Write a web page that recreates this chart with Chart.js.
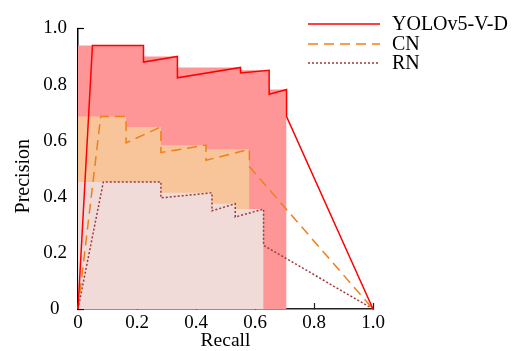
<!DOCTYPE html>
<html>
<head>
<meta charset="utf-8">
<script src="https://cdn.jsdelivr.net/npm/chart.js@4.4.0/dist/chart.umd.min.js"></script>
<style>
html, body { margin: 0; padding: 0; background: #fff; }
#wrap { width: 516px; height: 351px; position: relative; }
</style>
</head>
<body>
<div id="wrap"><canvas id="prChart"></canvas></div>
<script>
/* series names */
var seriesNames = ['YOLOv5-V-D', 'CN', 'RN'];
var axisTicks = [0, 0.2, 0.4, 0.6, 0.8, 1.0];

/* PR curves (recall -> precision) */
var yoloRecall    = [0, 0.049, 0.222, 0.222, 0.337, 0.337, 0.551, 0.551, 0.648, 0.648, 0.707, 0.707, 1.0];
var yoloPrecision = [0, 0.939, 0.939, 0.880, 0.900, 0.824, 0.861, 0.841, 0.851, 0.765, 0.782, 0.686, 0];
var cnRecall      = [0, 0.077, 0.163, 0.163, 0.281, 0.281, 0.434, 0.434, 0.581, 0.581, 1.0];
var cnPrecision   = [0, 0.686, 0.686, 0.592, 0.649, 0.558, 0.584, 0.530, 0.569, 0.507, 0];
var rnRecall      = [0, 0.086, 0.281, 0.281, 0.454, 0.454, 0.533, 0.533, 0.629, 0.629, 1.0];
var rnPrecision   = [0, 0.453, 0.453, 0.396, 0.414, 0.350, 0.375, 0.328, 0.356, 0.227, 0];

/* interpolated precision (shaded areas) */
var yoloFillRecall    = [0, 0.222, 0.337, 0.551, 0.648, 0.707];
var yoloFillPrecision = [0.939, 0.900, 0.861, 0.851, 0.782, 0.782];
var cnFillRecall      = [0, 0.163, 0.281, 0.434, 0.581];
var cnFillPrecision   = [0.686, 0.649, 0.584, 0.569, 0.569];
var rnFillRecall      = [0, 0.281, 0.454, 0.533, 0.629];
var rnFillPrecision   = [0.453, 0.414, 0.375, 0.356, 0.356];

var serif = '"Liberation Serif", "Times New Roman", serif';
Chart.defaults.font.family = serif;

function toPoints(xs, ys) {
	return xs.map(function(x, i) { return {x: x, y: ys[i]}; });
}

function lineSet(name, xs, ys, color, dash, order) {
	return {
		label: name, data: toPoints(xs, ys), borderColor: color, borderWidth: 1.5,
		borderDash: dash, pointRadius: 0, tension: 0, fill: false, order: order, clip: false
	};
}

// stepped 'before' = horizontal first, so each value holds until the next recall
function areaSet(xs, ys, color, order) {
	return {
		label: '', data: toPoints(xs, ys), stepped: 'before', fill: 'origin',
		backgroundColor: color, borderColor: 'rgba(0,0,0,0)', borderWidth: 0,
		pointRadius: 0, order: order
	};
}

/* legend in the upper right corner */
var cornerLegend = {
	id: 'cornerLegend',
	afterDraw: function(chart) {
		var ctx = chart.ctx;
		var rows = [24, 44, 63];
		ctx.save();
		ctx.font = '20px ' + serif;
		ctx.textBaseline = 'middle';
		for (var i = 0; i < seriesNames.length; i++) {
			var ds = chart.data.datasets[i];
			ctx.strokeStyle = ds.borderColor;
			ctx.lineWidth = ds.borderWidth;
			ctx.setLineDash(ds.borderDash || []);
			ctx.beginPath();
			ctx.moveTo(308, rows[i]);
			ctx.lineTo(380, rows[i]);
			ctx.stroke();
			ctx.fillStyle = '#000';
			ctx.fillText(ds.label, 392, rows[i] + 1);
		}
		ctx.restore();
	}
};

var whiteBg = {
	id: 'whiteBg',
	beforeDraw: function(chart) {
		var ctx = chart.ctx;
		ctx.save();
		ctx.fillStyle = '#fff';
		ctx.fillRect(0, 0, chart.width, chart.height);
		ctx.restore();
	}
};

function setTicks(scale) {
	scale.ticks = axisTicks.map(function(v) { return {value: v}; });
}

var ctx = document.getElementById('prChart').getContext('2d');
var prChart = new Chart(ctx, {
	type: 'line',
	data: {
		datasets: [
			lineSet(seriesNames[0], yoloRecall, yoloPrecision, '#ff0000', [], 0),
			lineSet(seriesNames[1], cnRecall, cnPrecision, '#f07f1a', [10, 6], 1),
			lineSet(seriesNames[2], rnRecall, rnPrecision, '#9b3a3a', [2, 2], 2),
			areaSet(yoloFillRecall, yoloFillPrecision, '#fe9698', 5),
			areaSet(cnFillRecall, cnFillPrecision, '#f8c59a', 4),
			areaSet(rnFillRecall, rnFillPrecision, '#f0dbd9', 3)
		]
	},
	options: {
		responsive: true,
		maintainAspectRatio: false,
		animation: false,
		layout: { padding: { left: 0, right: 143, top: 15, bottom: 0 } },
		plugins: { legend: { display: false }, tooltip: { enabled: false } },
		scales: {
			x: {
				type: 'linear', min: 0, max: 1,
				afterBuildTicks: setTicks,
				afterFit: function(s) { s.height = 42; },
				border: { display: true, color: '#222', width: 1.5 },
				grid: { drawOnChartArea: false, drawTicks: true, tickLength: -6, color: '#222', tickWidth: 1.2 },
				ticks: {
					padding: 9, color: '#000', maxRotation: 0,
					font: { family: serif, size: 19 },
					callback: function(v) { return v === 0 ? '0' : v.toFixed(1); }
				},
				title: { display: true, text: 'Recall', color: '#000', padding: 0, font: { family: serif, size: 19.5, lineHeight: 1.0 } }
			},
			y: {
				type: 'linear', min: 0, max: 1,
				afterBuildTicks: setTicks,
				afterFit: function(s) { s.width = 78; },
				border: { display: true, color: '#000', width: 1.5 },
				grid: { drawOnChartArea: false, drawTicks: true, tickLength: -6, color: '#000', tickWidth: 1.2 },
				ticks: {
					padding: 17, color: '#000',
					font: { family: serif, size: 19 },
					callback: function(v) { return v === 0 ? '0\u2009\u2009' : v.toFixed(1); }
				},
				title: { display: true, text: 'Precision   ', color: '#000', padding: { top: 12, bottom: 0 }, font: { family: serif, size: 20 } }
			}
		}
	},
	plugins: [whiteBg, cornerLegend]
});
</script>
</body>
</html>
